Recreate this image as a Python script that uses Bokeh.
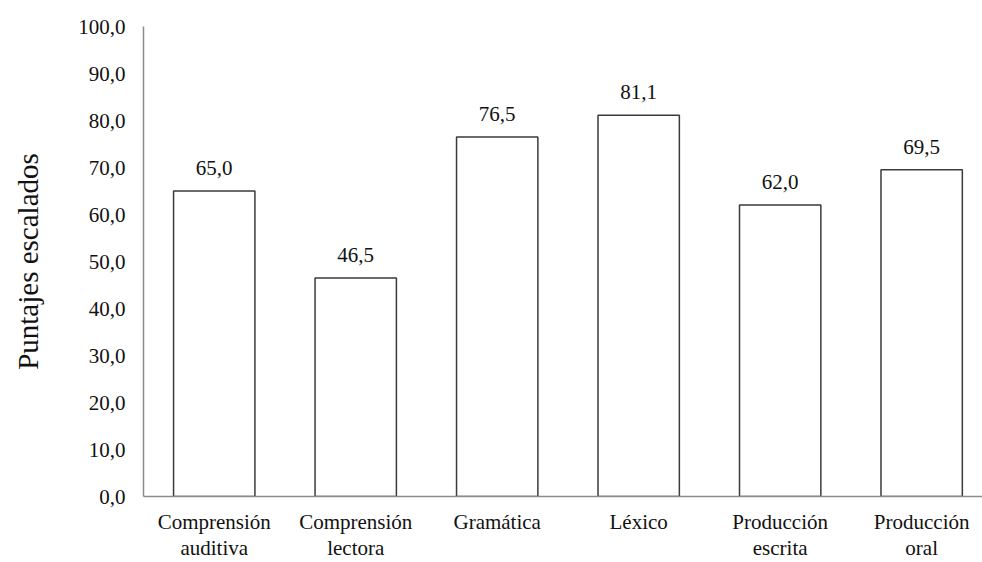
from bokeh.plotting import figure
from bokeh.models import Range1d, FixedTicker, ColumnDataSource
from bokeh.embed import file_html
from bokeh.resources import INLINE
from bokeh.core.properties import value

categories = ["Comprensión\nauditiva", "Comprensión\nlectora", "Gramática", "Léxico",
              "Producción\nescrita", "Producción\noral"]
scores = [65.0, 46.5, 76.5, 81.1, 62.0, 69.5]
y_ticks = [0, 10, 20, 30, 40, 50, 60, 70, 80, 90, 100]
y_title = "Puntajes escalados"

FONT = "Liberation Serif"

xs = [i + 0.5 for i in range(len(categories))]
labels = [f"{v:.1f}".replace(".", ",") for v in scores]
src = ColumnDataSource(dict(x=xs, top=scores, label=labels))

p = figure(width=982, height=562, output_backend="svg", toolbar_location=None,
           x_range=Range1d(0, 5.93), y_range=Range1d(0, 100),
           min_border_left=143, min_border_right=0, min_border_top=26, min_border_bottom=10)

p.vbar(x="x", top="top", width=0.575, source=src, fill_color="white",
       line_color="#3a3a3a", line_width=1.5)
p.text(x="x", y="top", text="label", source=src, y_offset=-16,
       text_align="center", text_baseline="bottom",
       text_font=value(FONT), text_font_size="21px", text_color="#111111")

p.xgrid.visible = False
p.ygrid.visible = False
p.outline_line_color = None

p.xaxis.ticker = FixedTicker(ticks=xs)
p.xaxis.major_label_overrides = {x: c for x, c in zip(xs, categories)}
p.yaxis.ticker = FixedTicker(ticks=y_ticks)
p.yaxis.major_label_overrides = {t: f"{t:.1f}".replace(".", ",") for t in y_ticks}

for ax in (p.xaxis, p.yaxis):
    ax.axis_line_color = "#8c8c8c"
    ax.axis_line_width = 1.5
    ax.major_tick_line_color = None
    ax.minor_tick_line_color = None
    ax.major_label_text_font = FONT
    ax.major_label_text_font_size = "21px"
    ax.major_label_text_color = "#111111"

p.xaxis.major_label_standoff = 7
p.xaxis.major_label_text_line_height = 1.1
p.yaxis.major_label_standoff = 12

p.yaxis.axis_label = y_title
p.yaxis.axis_label_text_font = FONT
p.yaxis.axis_label_text_font_size = "29px"
p.yaxis.axis_label_text_font_style = "normal"
p.yaxis.axis_label_text_color = "#111111"
p.yaxis.axis_label_standoff = 31

open("out.html", "w").write(file_html(p, INLINE))
